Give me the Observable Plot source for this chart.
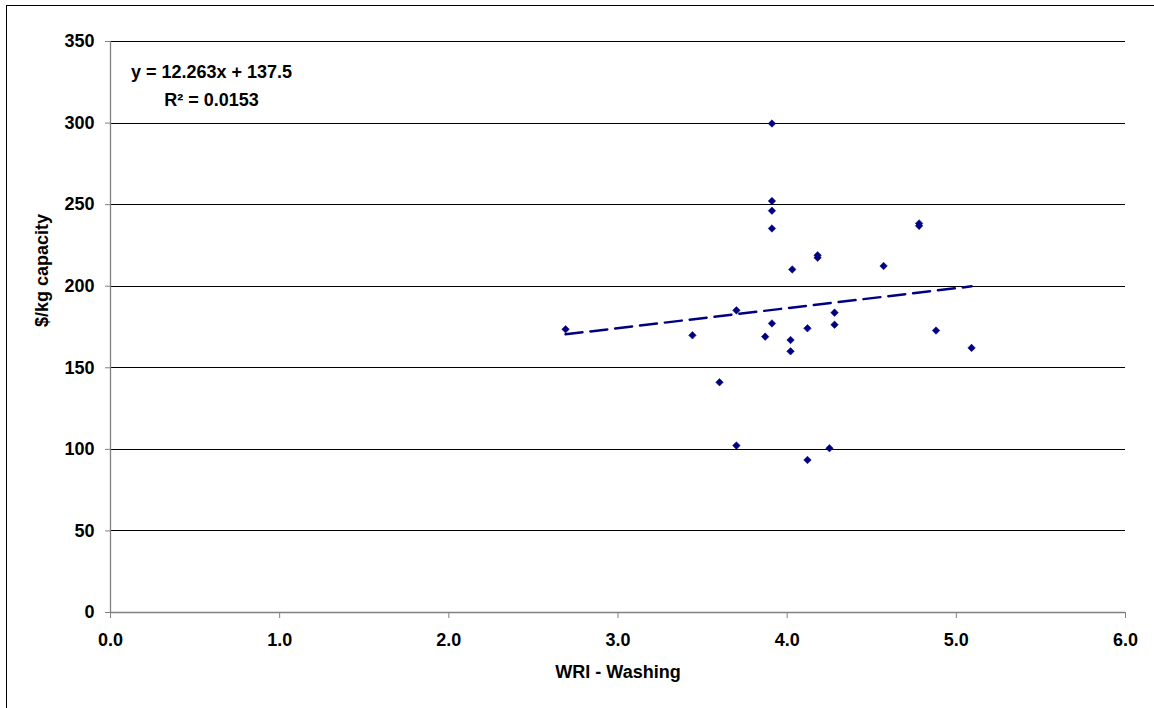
<!DOCTYPE html>
<html><head><meta charset="utf-8">
<script src="https://cdn.jsdelivr.net/npm/d3@7"></script>
<script src="https://cdn.jsdelivr.net/npm/@observablehq/plot@0.6"></script>
<style>
html,body{margin:0;padding:0;background:#fff;overflow:hidden;width:1154px;height:708px;}
#frame{position:absolute;left:6px;top:5px;width:1200px;height:760px;border:1px solid #000;box-sizing:border-box;}
#chart{position:absolute;left:0;top:0;}
</style></head><body>
<div id="frame"></div><div id="chart"></div>
<script>
// WRI - Washing score (x) and $/kg capacity (y)
const wri  = [2.69, 3.44, 3.60, 3.70, 3.70, 3.87, 3.91, 3.91, 3.91, 3.91, 3.91, 4.02, 4.02, 4.03, 4.12, 4.12, 4.18, 4.18, 4.25, 4.28, 4.28, 4.57, 4.78, 4.78, 4.88, 5.09];
const cost = [173.6, 169.9, 141.1, 185.2, 102.3, 169.1, 299.7, 252.2, 246.3, 235.4, 177.2, 167.0, 160.1, 210.3, 174.2, 93.5, 217.5, 219.0, 100.7, 183.8, 176.4, 212.4, 237.0, 238.5, 172.8, 162.2];
// linear trendline
const slope = 12.263;
const intercept = 137.5;
const eqLines = ["y = 12.263x + 137.5", "R² = 0.0153"];
const eqX = [0.597, 0.597];
const eqY = [331.0, 314.0];
const xTicks = [0, 1, 2, 3, 4, 5, 6];
const yTicks = [0, 50, 100, 150, 200, 250, 300, 350];
const xTitle = "WRI - Washing";
const yTitle = "$/kg capacity";

const points = wri.map((x, i) => ({x, y: cost[i]}));
const [x0, x1] = d3.extent(wri);
const trend = [x0, x1].map(x => ({x, y: slope * x + intercept}));
const eq = eqLines.map((t, i) => ({t, x: eqX[i], y: eqY[i]}));

const font = "'Liberation Sans', Arial, sans-serif";
const fs = 18;
const chart = Plot.plot({
  width: 1154,
  height: 708,
  marginLeft: 110,
  marginRight: 29,
  marginTop: 41,
  marginBottom: 96,
  style: {fontFamily: font, fontSize: fs + "px", fontWeight: "bold", color: "#000", background: "transparent"},
  x: {domain: [0, 6]},
  y: {domain: [0, 350]},
  marks: [
    Plot.gridY(yTicks.filter(d => d > 0), {stroke: "#000", strokeOpacity: 1, strokeWidth: 1, shapeRendering: "crispEdges"}),
    Plot.ruleX([0], {stroke: "#808080", strokeWidth: 1.3}),
    Plot.ruleY([0], {stroke: "#808080", strokeWidth: 1.3}),
    Plot.axisX({ticks: xTicks, tickFormat: d3.format(".1f"), tickSize: 6, tickPadding: 15, stroke: "#808080", fill: "#000", fontSize: fs, label: null}),
    Plot.axisY({ticks: yTicks, tickSize: 5, tickPadding: 11, stroke: "#808080", fill: "#000", fontSize: fs, label: null}),
    Plot.text([xTitle], {frameAnchor: "bottom", dy: 65, text: d => d, fontSize: fs, fontWeight: "bold", fill: "#000"}),
    Plot.text([yTitle], {frameAnchor: "left", dx: -68, rotate: -90, text: d => d, fontSize: fs, fontWeight: "bold", fill: "#000"}),
    Plot.line(trend, {x: "x", y: "y", stroke: "#000080", strokeWidth: 2.5, strokeDasharray: "17,8"}),
    Plot.dot(points, {x: "x", y: "y", symbol: "diamond2", r: 3.4, fill: "#000080", stroke: "#000080", strokeWidth: 0.5}),
    Plot.text(eq, {x: "x", y: "y", text: "t", fontSize: fs, fontWeight: "bold", fill: "#000"})
  ]
});
document.getElementById("chart").appendChild(chart);
</script>
</body></html>
